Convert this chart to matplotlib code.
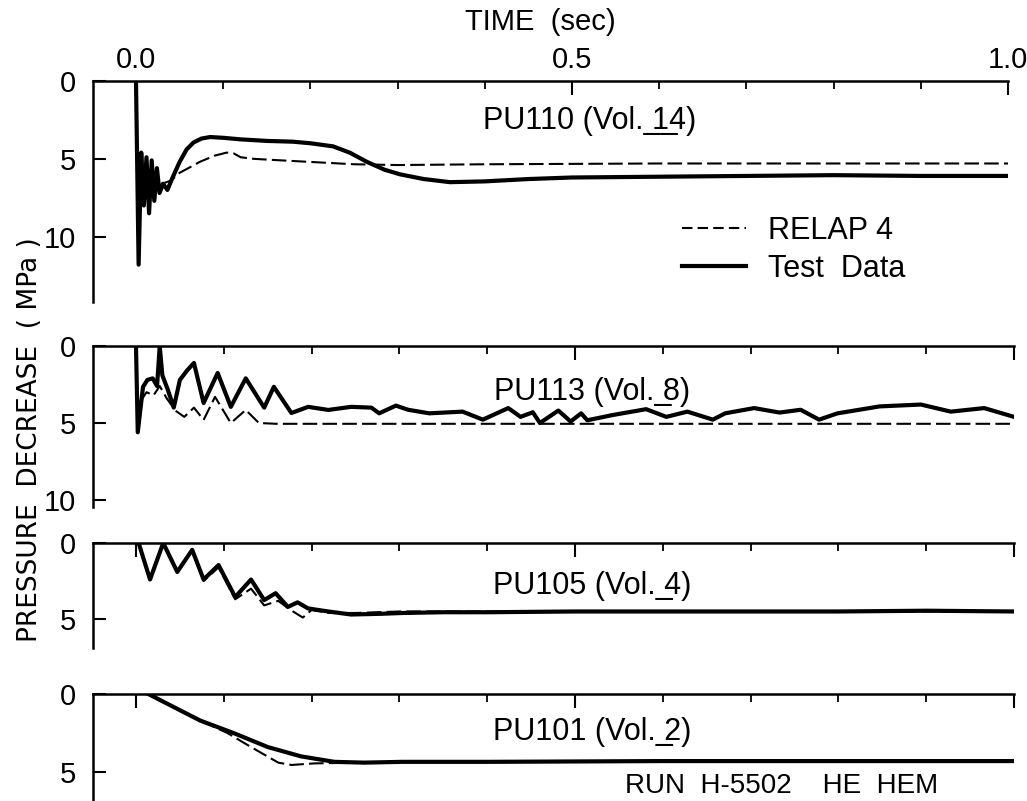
import matplotlib
matplotlib.use('Agg')
import matplotlib.pyplot as plt
from matplotlib.ticker import MultipleLocator
from matplotlib.lines import Line2D

plt.rcParams['font.family'] = ['Liberation Sans', 'DejaVu Sans']

# PU110 (Vol. 14)
t1_test = [0.0, 0.003, 0.006, 0.009, 0.012, 0.015, 0.018, 0.021, 0.024, 0.027, 0.031, 0.036,
           0.042, 0.05, 0.058, 0.066, 0.075, 0.085, 0.1, 0.12, 0.15, 0.18, 0.2, 0.226, 0.245,
           0.265, 0.285, 0.303, 0.33, 0.36, 0.4, 0.45, 0.5, 0.6, 0.7, 0.8, 0.9, 1.0]
p1_test = [0.0, 11.8, 4.6, 8.0, 4.9, 8.5, 5.1, 7.7, 5.6, 7.2, 6.6, 7.0,
           6.2, 5.2, 4.4, 3.95, 3.7, 3.6, 3.65, 3.75, 3.85, 3.9, 4.0, 4.2, 4.6,
           5.2, 5.7, 6.0, 6.3, 6.5, 6.45, 6.3, 6.2, 6.15, 6.1, 6.05, 6.1, 6.1]
t1_relap = [0.03, 0.04, 0.05, 0.06, 0.073, 0.09, 0.104, 0.112, 0.12, 0.135, 0.15, 0.2, 0.25,
            0.3, 0.4, 0.6, 0.8, 1.0]
p1_relap = [6.6, 6.4, 5.9, 5.6, 5.2, 4.8, 4.6, 4.65, 4.9, 5.0, 5.05, 5.2, 5.35,
            5.4, 5.35, 5.3, 5.3, 5.3]

# PU113 (Vol. 8)
t2_test = [0.0, 0.002, 0.008, 0.013, 0.019, 0.024, 0.027, 0.030, 0.036, 0.043, 0.05, 0.058,
           0.066, 0.077, 0.093, 0.108, 0.125, 0.146, 0.157, 0.177, 0.196, 0.219, 0.245, 0.268,
           0.277, 0.296, 0.310, 0.334, 0.372, 0.395, 0.424, 0.438, 0.452, 0.46, 0.481, 0.495,
           0.507, 0.514, 0.543, 0.581, 0.604, 0.628, 0.657, 0.671, 0.704, 0.733, 0.757, 0.778,
           0.799, 0.847, 0.894, 0.928, 0.966, 1.0]
p2_test = [0.0, 5.6, 2.65, 2.2, 2.1, 2.6, 0.0, 1.9, 2.8, 4.0, 2.2, 1.6,
           1.1, 3.7, 1.75, 3.95, 2.1, 4.0, 2.65, 4.35, 3.95, 4.15, 3.95, 4.0,
           4.37, 3.87, 4.14, 4.37, 4.26, 4.78, 4.03, 4.6, 4.3, 5.0, 4.19, 4.9,
           4.37, 4.82, 4.48, 4.1, 4.6, 4.26, 4.78, 4.37, 4.03, 4.32, 4.14, 4.78,
           4.37, 3.92, 3.8, 4.26, 4.03, 4.6]
t2_relap = [0.005, 0.012, 0.02, 0.027, 0.035, 0.045, 0.055, 0.066, 0.077, 0.09, 0.108, 0.125,
            0.14, 0.16, 0.3, 0.6, 1.0]
p2_relap = [3.6, 3.0, 3.2, 2.6, 3.4, 4.2, 4.6, 4.0, 4.8, 3.3, 5.0, 4.15,
            5.0, 5.05, 5.05, 5.05, 5.05]

# PU105 (Vol. 4)
t3_test = [0.003, 0.016, 0.031, 0.047, 0.064, 0.077, 0.094, 0.113, 0.131, 0.146, 0.159, 0.173,
           0.184, 0.196, 0.219, 0.245, 0.28, 0.303, 0.35, 0.4, 0.5, 0.6, 0.7, 0.8, 0.9, 1.0]
p3_test = [0.0, 2.4, 0.0, 1.9, 0.45, 2.4, 1.45, 3.55, 2.4, 3.75, 3.3, 4.2,
           3.9, 4.3, 4.5, 4.7, 4.65, 4.6, 4.55, 4.55, 4.5, 4.5, 4.5, 4.5, 4.45, 4.5]
t3_relap = [0.003, 0.016, 0.031, 0.047, 0.064, 0.077, 0.094, 0.113, 0.131, 0.146, 0.162, 0.176,
            0.19, 0.2, 0.22, 0.25, 0.3, 0.4, 0.6, 0.8, 1.0]
p3_relap = [0.0, 2.4, 0.0, 1.9, 0.5, 2.5, 1.6, 3.7, 3.0, 4.1, 3.8, 4.4,
            4.9, 4.4, 4.6, 4.6, 4.5, 4.5, 4.5, 4.5, 4.5]

# PU101 (Vol. 2)
t4_test = [0.014, 0.04, 0.073, 0.111, 0.15, 0.188, 0.226, 0.26, 0.303, 0.4, 0.6, 0.8, 1.0]
p4_test = [0.0, 0.75, 1.7, 2.5, 3.4, 4.0, 4.35, 4.4, 4.35, 4.35, 4.3, 4.3, 4.3]
t4_relap = [0.014, 0.04, 0.073, 0.104, 0.131, 0.162, 0.177, 0.203, 0.25, 0.3, 0.4, 1.0]
p4_relap = [0.0, 0.75, 1.7, 2.5, 3.4, 4.4, 4.55, 4.45, 4.4, 4.35, 4.35, 4.3]

UL = '\u0332'
titles = ['PU110 (Vol. ' + UL + '1' + UL + '4)', 'PU113 (Vol. ' + UL + '8)',
          'PU105 (Vol. ' + UL + '4)', 'PU101 (Vol. ' + UL + '2)']
series = [(t1_test, p1_test, t1_relap, p1_relap),
          (t2_test, p2_test, t2_relap, p2_relap),
          (t3_test, p3_test, t3_relap, p3_relap),
          (t4_test, p4_test, t4_relap, p4_relap)]

W, H = 1027, 801
fig = plt.figure(figsize=(W / 100, H / 100), dpi=100)

# pixel layout: top, bottom, right edge (= 1.0 s), y max, y ticks, title y (MPa)
layout = [(81, 302, 1008, 14.2, [0, 5, 10], 2.6),
          (346, 507, 1014, 10.45, [0, 5, 10], 3.0),
          (543, 648, 1014, 6.9, [0, 5], 2.8),
          (694, 801, 1014, 6.86, [0, 5], 2.45)]
x0_px, left_px = 136, 93

for i, ((top, bot, right, ymax, yt, ty), (tt, pt, tr, pr)) in enumerate(zip(layout, series)):
    ax = fig.add_axes([left_px / W, 1 - bot / H, (right - left_px) / W, (bot - top) / H])
    px_per_s = right - x0_px
    ax.set_xlim((left_px - x0_px) / px_per_s, 1.0)
    ax.set_ylim(ymax, 0)
    ax.plot(tt, pt, color='black', lw=3.0, solid_joinstyle='round')
    ax.plot(tr, pr, color='black', lw=1.5, dashes=(7, 2.5))
    ax.spines['right'].set_visible(False)
    ax.spines['bottom'].set_visible(False)
    for s in ('top', 'left'):
        ax.spines[s].set_linewidth(1.8)
    ax.xaxis.set_ticks_position('top')
    ax.set_xticks([0.0, 0.5, 1.0])
    ax.xaxis.set_minor_locator(MultipleLocator(0.1))
    ax.tick_params(axis='x', which='major', direction='in', length=10, width=1.5,
                   labelsize=21, pad=5, labeltop=(i == 0))
    ax.tick_params(axis='x', which='minor', direction='in', length=6, width=1.3)
    ax.set_yticks(yt)
    ax.tick_params(axis='y', direction='in', length=9, width=1.5, labelsize=21, pad=12)
    if i == 0:
        ax.set_xticklabels(['0.0', '0.5', '1.0'])
    ax.text(0.52, ty, titles[i], ha='center', va='center', fontsize=22)

fig.text(540 / W, 1 - 22 / H, 'TIME  (sec)', ha='center', va='center', fontsize=21)

handles = [Line2D([], [], color='black', lw=1.5, dashes=(5, 2.5)),
           Line2D([], [], color='black', lw=3.0)]
fig.legend(handles, ['RELAP 4', 'Test  Data'], loc='upper left',
           bbox_to_anchor=(682 / W, 1 - 216 / H), frameon=False, borderpad=0,
           borderaxespad=0, handlelength=2.1, handletextpad=0.7, labelspacing=0.25,
           fontsize=22)

fig.text(30 / W, 1 - 440 / H, 'PRESSURE  DECREASE  ( MPa )', rotation=90,
         ha='center', va='center', fontsize=19, family='DejaVu Sans')
fig.text(625 / W, 1 - 799 / H, 'RUN  H-5502    HE  HEM', ha='left', va='bottom', fontsize=20)

fig.savefig('out.png', dpi=100)
